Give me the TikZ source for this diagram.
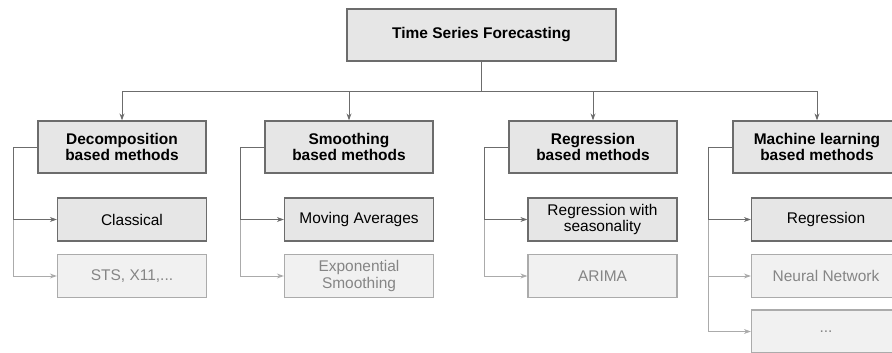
\documentclass[tikz,border=0pt]{standalone}
\usepackage{fontspec}
\setmainfont{Liberation Sans}
\usepackage{tikz}
\usetikzlibrary{arrows.meta}
\usetikzlibrary{positioning}

\definecolor{boxfill}{HTML}{E6E6E6}
\definecolor{boxline}{HTML}{6C6C6C}
\definecolor{palefill}{HTML}{F1F1F1}
\definecolor{paleline}{HTML}{ABABAB}
\definecolor{paletext}{HTML}{858585}

\tikzset{
  headbox/.style={draw=boxline,fill=boxfill,line width=0.8pt,align=center,
    minimum width=6.725cm,minimum height=1.3cm,font=\fontsize{11}{12}\selectfont\bfseries},
  catbox/.style={draw=boxline,fill=boxfill,line width=0.8pt,align=center,
    minimum width=4.2cm,minimum height=1.3cm,font=\fontsize{11}{12}\selectfont\bfseries},
  itembox/.style={draw=boxline,fill=boxfill,line width=0.8pt,align=center,
    minimum width=3.725cm,minimum height=1.075cm,font=\fontsize{11}{12}\selectfont},
  palebox/.style={itembox,draw=paleline,fill=palefill,text=paletext},
  link/.style={draw=boxline,line width=0.7pt},
  palelink/.style={draw=paleline,line width=0.7pt},
  tip/.style={-{Stealth[length=5pt,width=3.5pt]}}
}

\begin{document}
\begin{tikzpicture}[x=0.025cm,y=-0.025cm]
    \useasboundingbox (0,0) rectangle (892,353);

    \node[headbox] (tsf) at (481.5,35) {Time Series Forecasting};

    \node[catbox] (dec) at (122,147) {Decomposition\\based methods};
    \node[catbox] (smo) at (349,147) {Smoothing\\based methods};
    \node[catbox] (reg) at (593,147) {Regression\\based methods};
    \node[catbox] (mal) at (817,147) {Machine learning\\based methods};

    \node[itembox] (cls) at (132,219.5) {Classical};
    \node[palebox] (sts) at (132,276)   {STS, X11,...};
    \node[itembox] (mav) at (359,219.5) {Moving Averages};
    \node[palebox] (exs) at (359,276)   {Exponential\\Smoothing};
    \node[itembox] (rws) at (602.5,219.5) {Regression with\\seasonality};
    \node[palebox] (ari) at (602.5,276) {ARIMA};
    \node[itembox] (rgr) at (826,219.5) {Regression};
    \node[palebox] (nnw) at (826,276)   {Neural Network};
    \node[palebox] (etc) at (826,331.5) {...};

    \coordinate (bus) at (481.5,91);
    \draw[link] (tsf.south) -- (bus);
    \foreach \n in {dec,smo,reg,mal}
        \draw[link,tip] (bus) -| (\n.north);

    \foreach \p/\c in {dec/sts,smo/exs,reg/ari,mal/nnw,mal/etc}
        \draw[palelink,tip] (\p.west) ++(-24,0) |- (\c.west);
    \foreach \p/\c in {dec/cls,smo/mav,reg/rws,mal/rgr}
        \draw[link,tip] (\p.west) -- ++(-24,0) |- (\c.west);
\end{tikzpicture}
\end{document}
